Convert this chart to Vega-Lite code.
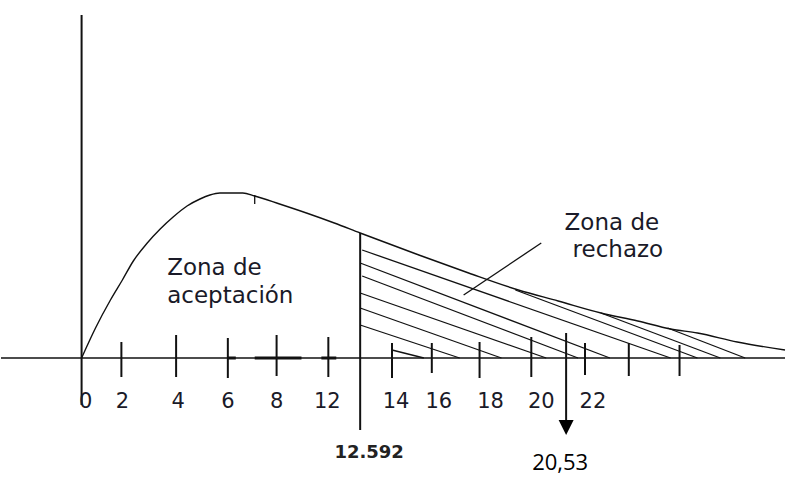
{
  "$schema": "https://vega.github.io/schema/vega-lite/v6.json",
  "width": 788,
  "height": 478,
  "autosize": {"type": "fit", "contains": "padding"},
  "padding": 0,
  "background": "white",
  "config": {"view": {"stroke": null}},
  "datasets": {
    "curve": [
      {"x": 81, "y": 358}, {"x": 95, "y": 328}, {"x": 110, "y": 300}, {"x": 122, "y": 280},
      {"x": 133, "y": 261}, {"x": 147, "y": 243}, {"x": 160, "y": 229}, {"x": 173, "y": 217},
      {"x": 187, "y": 206}, {"x": 200, "y": 199}, {"x": 210, "y": 195}, {"x": 220, "y": 193},
      {"x": 243, "y": 193}, {"x": 255, "y": 196}, {"x": 280, "y": 204}, {"x": 307, "y": 213},
      {"x": 335, "y": 223}, {"x": 361, "y": 233}, {"x": 420, "y": 255}, {"x": 470, "y": 273},
      {"x": 520, "y": 290}, {"x": 560, "y": 301}, {"x": 603, "y": 313}, {"x": 640, "y": 321},
      {"x": 673, "y": 329}, {"x": 700, "y": 333}, {"x": 740, "y": 342}, {"x": 788, "y": 350}
    ],
    "segs": [
      {"kind": "axis", "x": 0, "y": 358, "x2": 788, "y2": 358},
      {"kind": "yaxis", "x": 81, "y": 15, "x2": 81, "y2": 405},
      {"kind": "crit", "x": 361, "y": 233, "x2": 361, "y2": 430},
      {"kind": "arrow", "x": 568, "y": 333, "x2": 568, "y2": 422},
      {"kind": "tick", "x": 121, "y": 342, "x2": 121, "y2": 377},
      {"kind": "tick", "x": 176, "y": 335, "x2": 176, "y2": 377},
      {"kind": "tick", "x": 228, "y": 338, "x2": 228, "y2": 378},
      {"kind": "tick", "x": 277, "y": 335, "x2": 277, "y2": 376},
      {"kind": "tick", "x": 329, "y": 337, "x2": 329, "y2": 377},
      {"kind": "tick", "x": 393, "y": 343, "x2": 393, "y2": 378},
      {"kind": "tick", "x": 433, "y": 343, "x2": 433, "y2": 373},
      {"kind": "tick", "x": 481, "y": 342, "x2": 481, "y2": 378},
      {"kind": "tick", "x": 533, "y": 337, "x2": 533, "y2": 377},
      {"kind": "tick", "x": 587, "y": 343, "x2": 587, "y2": 375},
      {"kind": "tick", "x": 631, "y": 343, "x2": 631, "y2": 376},
      {"kind": "tick", "x": 682, "y": 345, "x2": 682, "y2": 376},
      {"kind": "peak", "x": 255, "y": 195, "x2": 255, "y2": 204},
      {"kind": "thick", "x": 228, "y": 358, "x2": 236, "y2": 358},
      {"kind": "thick", "x": 255, "y": 358, "x2": 302, "y2": 358},
      {"kind": "thick", "x": 322, "y": 358, "x2": 337, "y2": 358},
      {"kind": "hatch", "x": 393, "y": 350, "x2": 425, "y2": 358},
      {"kind": "hatch", "x": 361, "y": 325, "x2": 461, "y2": 358},
      {"kind": "hatch", "x": 361, "y": 308, "x2": 503, "y2": 358},
      {"kind": "hatch", "x": 361, "y": 293, "x2": 548, "y2": 358},
      {"kind": "hatch", "x": 363, "y": 276, "x2": 580, "y2": 358},
      {"kind": "hatch", "x": 361, "y": 263, "x2": 612, "y2": 358},
      {"kind": "hatch", "x": 363, "y": 250, "x2": 673, "y2": 358},
      {"kind": "hatch", "x": 517, "y": 290, "x2": 700, "y2": 358},
      {"kind": "hatch", "x": 603, "y": 313, "x2": 723, "y2": 358},
      {"kind": "hatch", "x": 670, "y": 328, "x2": 748, "y2": 358},
      {"kind": "hatch", "x": 465, "y": 295, "x2": 543, "y2": 243}
    ],
    "ticklabels": [
      {"text": "0", "x": 85, "y": 408}, {"text": "2", "x": 122, "y": 408},
      {"text": "4", "x": 178, "y": 408}, {"text": "6", "x": 228, "y": 408},
      {"text": "8", "x": 277, "y": 408}, {"text": "12", "x": 328, "y": 408},
      {"text": "14", "x": 397, "y": 408}, {"text": "16", "x": 440, "y": 408},
      {"text": "18", "x": 492, "y": 408}, {"text": "20", "x": 543, "y": 408},
      {"text": "22", "x": 595, "y": 408}
    ],
    "zones": [
      {"text": "Zona de", "x": 167, "y": 275, "side": "left"},
      {"text": "aceptación", "x": 167, "y": 303, "side": "left"},
      {"text": "Zona de", "x": 614, "y": 230, "side": "right"},
      {"text": "rechazo", "x": 620, "y": 257, "side": "right"}
    ],
    "values": [
      {"text": "12.592", "x": 370, "y": 458, "kind": "crit"},
      {"text": "20,53", "x": 562, "y": 470, "kind": "stat"}
    ],
    "head": [{"x": 568, "y": 427.5}]
  },
  "layer": [
    {
      "data": {"name": "curve"},
      "mark": {"type": "line", "color": "#111", "strokeWidth": 1.4, "interpolate": "monotone"},
      "encoding": {
        "x": {"field": "x", "type": "quantitative", "scale": {"domain": [0, 788], "nice": false, "zero": false}, "axis": null},
        "y": {"field": "y", "type": "quantitative", "scale": {"domain": [0, 478], "nice": false, "zero": false, "reverse": true}, "axis": null}
      }
    },
    {
      "data": {"name": "segs"},
      "transform": [{"filter": "datum.kind === 'hatch' || datum.kind === 'peak'"}],
      "mark": {"type": "rule", "color": "#111", "strokeWidth": 1.3},
      "encoding": {
        "x": {"field": "x", "type": "quantitative"},
        "y": {"field": "y", "type": "quantitative"},
        "x2": {"field": "x2"},
        "y2": {"field": "y2"}
      }
    },
    {
      "data": {"name": "segs"},
      "transform": [{"filter": "datum.kind === 'axis'"}],
      "mark": {"type": "rule", "color": "#111", "strokeWidth": 1.6},
      "encoding": {
        "x": {"field": "x", "type": "quantitative"},
        "y": {"field": "y", "type": "quantitative"},
        "x2": {"field": "x2"},
        "y2": {"field": "y2"}
      }
    },
    {
      "data": {"name": "segs"},
      "transform": [{"filter": "datum.kind === 'yaxis' || datum.kind === 'crit' || datum.kind === 'tick' || datum.kind === 'arrow'"}],
      "mark": {"type": "rule", "color": "#111", "strokeWidth": 2},
      "encoding": {
        "x": {"field": "x", "type": "quantitative"},
        "y": {"field": "y", "type": "quantitative"},
        "x2": {"field": "x2"},
        "y2": {"field": "y2"}
      }
    },
    {
      "data": {"name": "segs"},
      "transform": [{"filter": "datum.kind === 'thick'"}],
      "mark": {"type": "rule", "color": "#111", "strokeWidth": 3},
      "encoding": {
        "x": {"field": "x", "type": "quantitative"},
        "y": {"field": "y", "type": "quantitative"},
        "x2": {"field": "x2"},
        "y2": {"field": "y2"}
      }
    },
    {
      "data": {"name": "head"},
      "mark": {"type": "point", "shape": "M-1,-1L1,-1L0,1Z", "filled": true, "color": "#000", "opacity": 1, "size": 225, "strokeWidth": 0},
      "encoding": {
        "x": {"field": "x", "type": "quantitative"},
        "y": {"field": "y", "type": "quantitative"}
      }
    },
    {
      "data": {"name": "ticklabels"},
      "mark": {"type": "text", "font": "DejaVu Sans", "fontSize": 21, "color": "#1a1a28", "align": "center", "baseline": "alphabetic"},
      "encoding": {
        "x": {"field": "x", "type": "quantitative"},
        "y": {"field": "y", "type": "quantitative"},
        "text": {"field": "text"}
      }
    },
    {
      "data": {"name": "zones"},
      "transform": [{"filter": "datum.side === 'left'"}],
      "mark": {"type": "text", "font": "DejaVu Sans", "fontSize": 23, "color": "#1a1a28", "align": "left", "baseline": "alphabetic"},
      "encoding": {
        "x": {"field": "x", "type": "quantitative"},
        "y": {"field": "y", "type": "quantitative"},
        "text": {"field": "text"}
      }
    },
    {
      "data": {"name": "zones"},
      "transform": [{"filter": "datum.side === 'right'"}],
      "mark": {"type": "text", "font": "DejaVu Sans", "fontSize": 23, "color": "#1a1a28", "align": "center", "baseline": "alphabetic"},
      "encoding": {
        "x": {"field": "x", "type": "quantitative"},
        "y": {"field": "y", "type": "quantitative"},
        "text": {"field": "text"}
      }
    },
    {
      "data": {"name": "values"},
      "transform": [{"filter": "datum.kind === 'crit'"}],
      "mark": {"type": "text", "font": "DejaVu Sans", "fontSize": 18, "fontWeight": "bold", "color": "#222", "align": "center", "baseline": "alphabetic"},
      "encoding": {
        "x": {"field": "x", "type": "quantitative"},
        "y": {"field": "y", "type": "quantitative"},
        "text": {"field": "text"}
      }
    },
    {
      "data": {"name": "values"},
      "transform": [{"filter": "datum.kind === 'stat'"}],
      "mark": {"type": "text", "font": "Open Sans", "fontSize": 22, "color": "#000", "align": "center", "baseline": "alphabetic"},
      "encoding": {
        "x": {"field": "x", "type": "quantitative"},
        "y": {"field": "y", "type": "quantitative"},
        "text": {"field": "text"}
      }
    }
  ]
}
